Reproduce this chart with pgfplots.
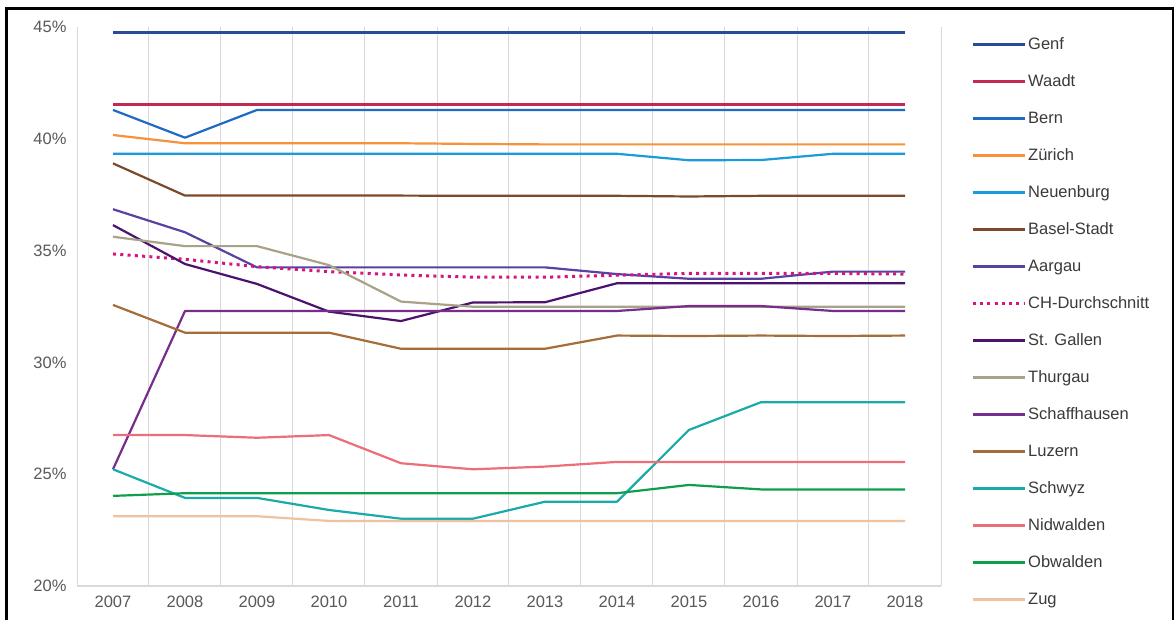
\documentclass[border=0pt]{standalone}
\usepackage{pgfplots}
\pgfplotsset{compat=1.18}
\usepackage{fontspec}
\setmainfont{Liberation Sans}
\definecolor{cGenf}{HTML}{2A4A9A}
\definecolor{cWaadt}{HTML}{C22A55}
\definecolor{cBern}{HTML}{1F6BC4}
\definecolor{cZuerich}{HTML}{F7923A}
\definecolor{cNeuenburg}{HTML}{1A9BDC}
\definecolor{cBasel}{HTML}{7B4A2B}
\definecolor{cAargau}{HTML}{5841A0}
\definecolor{cCH}{HTML}{D4147F}
\definecolor{cStGallen}{HTML}{4B136E}
\definecolor{cThurgau}{HTML}{A8A388}
\definecolor{cSchaff}{HTML}{772D8B}
\definecolor{cLuzern}{HTML}{A56D3A}
\definecolor{cSchwyz}{HTML}{1AAAAA}
\definecolor{cNidwalden}{HTML}{EC6E78}
\definecolor{cObwalden}{HTML}{0F9F4A}
\definecolor{cZug}{HTML}{EFC2A0}
\definecolor{gridgray}{HTML}{D9D9D9}
\definecolor{ticktext}{HTML}{595959}
\definecolor{legtext}{HTML}{3A3A3A}
\begin{document}
\begin{tikzpicture}
\useasboundingbox (0,0) rectangle (1176pt,619pt);
\fill[white] (0,0) rectangle (1176pt,619pt);
\draw[line width=2.5pt, black] (6.5pt,-5pt) -- (6.5pt,610.5pt) -- (1173pt,610.5pt) -- (1173pt,-5pt);
\begin{axis}[
  at={(77pt,33pt)}, anchor=south west,
  scale only axis, width=864pt, height=559pt,
  xmin=2006.5, xmax=2018.5, ymin=20, ymax=45,
  xtick={2007,...,2018},
  ytick={20,25,30,35,40,45},
  minor xtick={2006.5,2007.5,...,2018.5},
  xminorgrids=true,
  minor grid style={draw=gridgray, line width=1pt},
  major tick length=0pt, minor tick length=0pt,
  axis line style={draw=none},
  /pgf/number format/assume math mode=true,
  x tick label style={/pgf/number format/1000 sep={}, font=\fontsize{16.5}{18}\selectfont, text=ticktext, yshift=-6pt},
  y tick label style={font=\fontsize{16.5}{18}\selectfont, text=ticktext, xshift=-7pt},
  yticklabel={\pgfmathprintnumber{\tick}\%},
  clip=false,
  legend cell align=left,
  legend style={at={(1.0347,0.986)}, anchor=north west, draw=none, fill=none,
    font=\fontsize{16.5}{18}\selectfont, text=legtext,
    row sep=18pt, inner sep=0pt,
    nodes={inner sep=2pt, text height=12pt, text depth=3pt}},
  legend image code/.code={\draw[#1] (0pt,0pt) -- (52pt,0pt);},
  every axis plot/.append style={line width=2.2pt, line join=round},
]
\draw[gridgray, line width=1.2pt] (rel axis cs:0,0) -- (rel axis cs:1,0);
\addplot[cGenf] coordinates {(2007,44.75)(2008,44.75)(2009,44.75)(2010,44.75)(2011,44.75)(2012,44.75)(2013,44.75)(2014,44.75)(2015,44.75)(2016,44.75)(2017,44.75)(2018,44.75)};
\addlegendentry{Genf}
\addplot[cWaadt] coordinates {(2007,41.53)(2008,41.53)(2009,41.53)(2010,41.53)(2011,41.53)(2012,41.53)(2013,41.53)(2014,41.53)(2015,41.53)(2016,41.53)(2017,41.53)(2018,41.53)};
\addlegendentry{Waadt}
\addplot[cBern] coordinates {(2007,41.29)(2008,40.05)(2009,41.29)(2010,41.29)(2011,41.29)(2012,41.29)(2013,41.29)(2014,41.29)(2015,41.29)(2016,41.29)(2017,41.29)(2018,41.29)};
\addlegendentry{Bern}
\addplot[cZuerich] coordinates {(2007,40.17)(2008,39.80)(2009,39.80)(2010,39.80)(2011,39.80)(2012,39.77)(2013,39.75)(2014,39.75)(2015,39.75)(2016,39.75)(2017,39.75)(2018,39.75)};
\addlegendentry{Zürich}
\addplot[cNeuenburg] coordinates {(2007,39.33)(2008,39.33)(2009,39.33)(2010,39.33)(2011,39.33)(2012,39.33)(2013,39.33)(2014,39.33)(2015,39.04)(2016,39.05)(2017,39.33)(2018,39.33)};
\addlegendentry{Neuenburg}
\addplot[cBasel] coordinates {(2007,38.90)(2008,37.46)(2009,37.46)(2010,37.46)(2011,37.46)(2012,37.45)(2013,37.45)(2014,37.45)(2015,37.42)(2016,37.45)(2017,37.45)(2018,37.45)};
\addlegendentry{Basel-Stadt}
\addplot[cAargau] coordinates {(2007,36.85)(2008,35.82)(2009,34.25)(2010,34.25)(2011,34.25)(2012,34.25)(2013,34.25)(2014,33.95)(2015,33.74)(2016,33.74)(2017,34.06)(2018,34.06)};
\addlegendentry{Aargau}
\addplot[cCH, line width=3pt, dash pattern=on 3pt off 4.3pt, line cap=butt] coordinates {(2007,34.85)(2008,34.61)(2009,34.28)(2010,34.06)(2011,33.91)(2012,33.81)(2013,33.81)(2014,33.90)(2015,33.98)(2016,33.98)(2017,33.98)(2018,33.95)};
\addlegendentry{CH-Durchschnitt}
\addplot[cStGallen] coordinates {(2007,36.14)(2008,34.40)(2009,33.51)(2010,32.27)(2011,31.85)(2012,32.68)(2013,32.69)(2014,33.54)(2015,33.54)(2016,33.54)(2017,33.54)(2018,33.54)};
\addlegendentry{St. Gallen}
\addplot[cThurgau] coordinates {(2007,35.62)(2008,35.20)(2009,35.20)(2010,34.35)(2011,32.72)(2012,32.49)(2013,32.49)(2014,32.49)(2015,32.49)(2016,32.49)(2017,32.49)(2018,32.49)};
\addlegendentry{Thurgau}
\addplot[cSchaff] coordinates {(2007,25.22)(2008,32.30)(2009,32.30)(2010,32.30)(2011,32.30)(2012,32.30)(2013,32.30)(2014,32.30)(2015,32.52)(2016,32.52)(2017,32.30)(2018,32.30)};
\addlegendentry{Schaffhausen}
\addplot[cLuzern] coordinates {(2007,32.57)(2008,31.33)(2009,31.33)(2010,31.33)(2011,30.61)(2012,30.61)(2013,30.61)(2014,31.20)(2015,31.18)(2016,31.20)(2017,31.18)(2018,31.20)};
\addlegendentry{Luzern}
\addplot[cSchwyz] coordinates {(2007,25.22)(2008,23.94)(2009,23.94)(2010,23.40)(2011,23.01)(2012,23.01)(2013,23.77)(2014,23.77)(2015,26.98)(2016,28.22)(2017,28.22)(2018,28.22)};
\addlegendentry{Schwyz}
\addplot[cNidwalden] coordinates {(2007,26.75)(2008,26.75)(2009,26.63)(2010,26.75)(2011,25.49)(2012,25.22)(2013,25.34)(2014,25.55)(2015,25.55)(2016,25.55)(2017,25.55)(2018,25.55)};
\addlegendentry{Nidwalden}
\addplot[cObwalden] coordinates {(2007,24.03)(2008,24.15)(2009,24.15)(2010,24.15)(2011,24.15)(2012,24.15)(2013,24.15)(2014,24.15)(2015,24.52)(2016,24.32)(2017,24.32)(2018,24.32)};
\addlegendentry{Obwalden}
\addplot[cZug] coordinates {(2007,23.12)(2008,23.12)(2009,23.12)(2010,22.91)(2011,22.91)(2012,22.91)(2013,22.91)(2014,22.91)(2015,22.91)(2016,22.91)(2017,22.91)(2018,22.91)};
\addlegendentry{Zug}
\end{axis}
\end{tikzpicture}
\end{document}
